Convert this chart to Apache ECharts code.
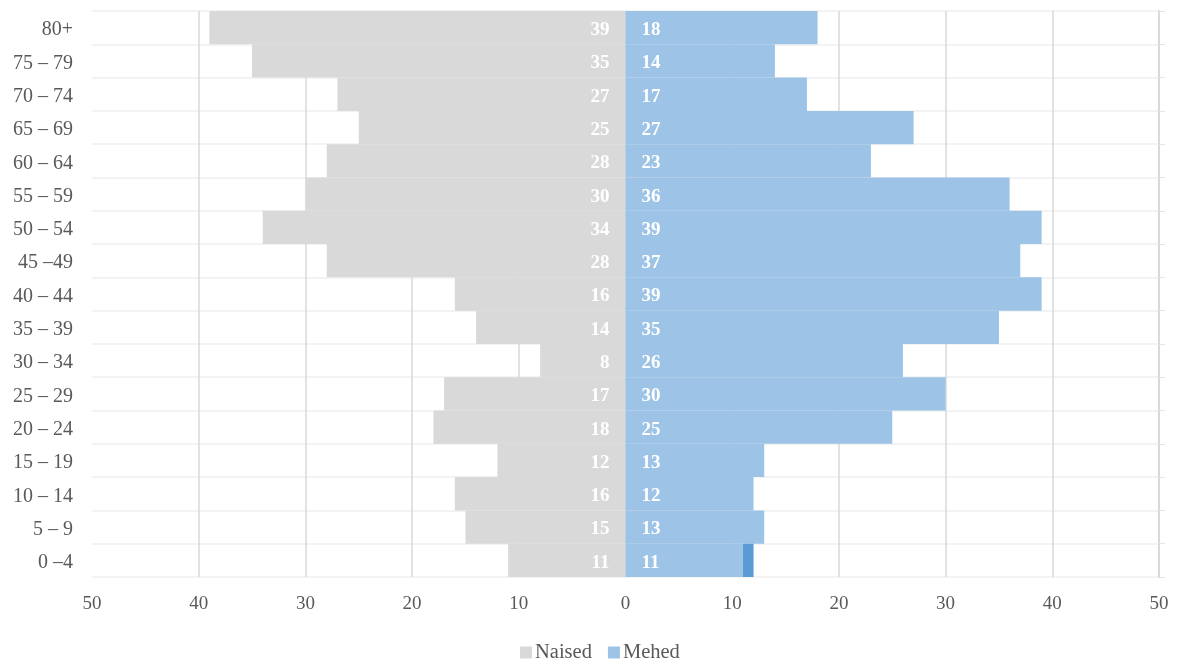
<!DOCTYPE html>
<html>
<head>
<meta charset="utf-8">
<script src="https://cdn.jsdelivr.net/npm/echarts@6/dist/echarts.min.js"></script>
<style>html,body{margin:0;padding:0;background:#fff}#c{width:1179px;height:662px}</style>
</head>
<body>
<div id="c"></div>
<script>
const categories = ["0 –4", "5 – 9", "10 – 14", "15 – 19", "20 – 24", "25 – 29", "30 – 34", "35 – 39", "40 – 44", "45 –49", "50 – 54", "55 – 59", "60 – 64", "65 – 69", "70 – 74", "75 – 79", "80+"];
const naised = [11, 15, 16, 12, 18, 17, 8, 14, 16, 28, 34, 30, 28, 25, 27, 35, 39];
const mehed  = [11, 13, 12, 13, 25, 30, 26, 35, 39, 37, 39, 36, 23, 27, 17, 14, 18];
const mehedExtra = [1, 0, 0, 0, 0, 0, 0, 0, 0, 0, 0, 0, 0, 0, 0, 0, 0];

const FONT = '"Liberation Serif", "DejaVu Serif", serif';
const chart = echarts.init(document.getElementById('c'));
chart.setOption({
  animation: false,
  textStyle: { fontFamily: FONT },
  legend: {
    data: ['Naised', 'Mehed'],
    top: 637,
    left: 515,
    itemWidth: 12, itemHeight: 12, itemGap: 16,
    itemStyle: { borderWidth: 0 },
    icon: 'rect',
    textStyle: { fontFamily: FONT, fontSize: 20.5, color: '#595959', padding: [4, 0, 0, -2] }
  },
  grid: { left: 92, right: 20, top: 11, bottom: 85, containLabel: false },
  xAxis: {
    type: 'value', min: -50, max: 50, interval: 10,
    axisLine: { show: false }, axisTick: { show: false },
    axisLabel: { formatter: v => Math.abs(v), color: '#595959', fontSize: 19, fontFamily: FONT, margin: 18 },
    splitLine: { show: true, showMinLine: false, lineStyle: { color: '#d9d9d9', width: 1.5 } }
  },
  yAxis: [{
    type: 'category', data: categories,
    axisLine: { show: false }, axisTick: { show: false },
    axisLabel: {
      color: '#595959', fontSize: 20, fontFamily: FONT, margin: 19,
      formatter: v => '{a|' + v + '}',
      rich: { a: { color: '#595959', fontSize: 20, fontFamily: FONT, padding: [5, 0, 0, 0] } }
    },
    splitLine: { show: true, lineStyle: { color: '#efefef', width: 1.5 } }
  }, {
    type: 'category', data: categories, position: 'right',
    axisLine: { show: true, lineStyle: { color: '#d9d9d9', width: 2 } },
    axisTick: { show: true, inside: false, length: 6, lineStyle: { color: '#e6e6e6' } },
    axisLabel: { show: false },
    splitLine: { show: false }
  }],
  series: [{
    name: 'Naised', type: 'bar', stack: 'total', barCategoryGap: 0,
    data: naised.map(v => -v),
    itemStyle: { color: '#d9d9d9' },
    label: { show: true, position: 'insideRight', distance: 16, offset: [0, 2.5], color: '#fff', fontSize: 19, fontFamily: FONT, fontWeight: 'bold', formatter: p => Math.abs(p.value) }
  }, {
    name: 'Mehed', type: 'bar', stack: 'total', barCategoryGap: 0,
    data: mehed,
    itemStyle: { color: '#9dc3e6' },
    label: { show: true, position: 'insideLeft', distance: 16, offset: [0, 2.5], color: '#fff', fontSize: 19, fontFamily: FONT, fontWeight: 'bold' }
  }, {
    name: 'extra', type: 'bar', stack: 'total', barCategoryGap: 0,
    data: mehedExtra,
    itemStyle: { color: '#5b9bd5' },
    label: { show: false }
  }]
});
</script>
</body>
</html>
